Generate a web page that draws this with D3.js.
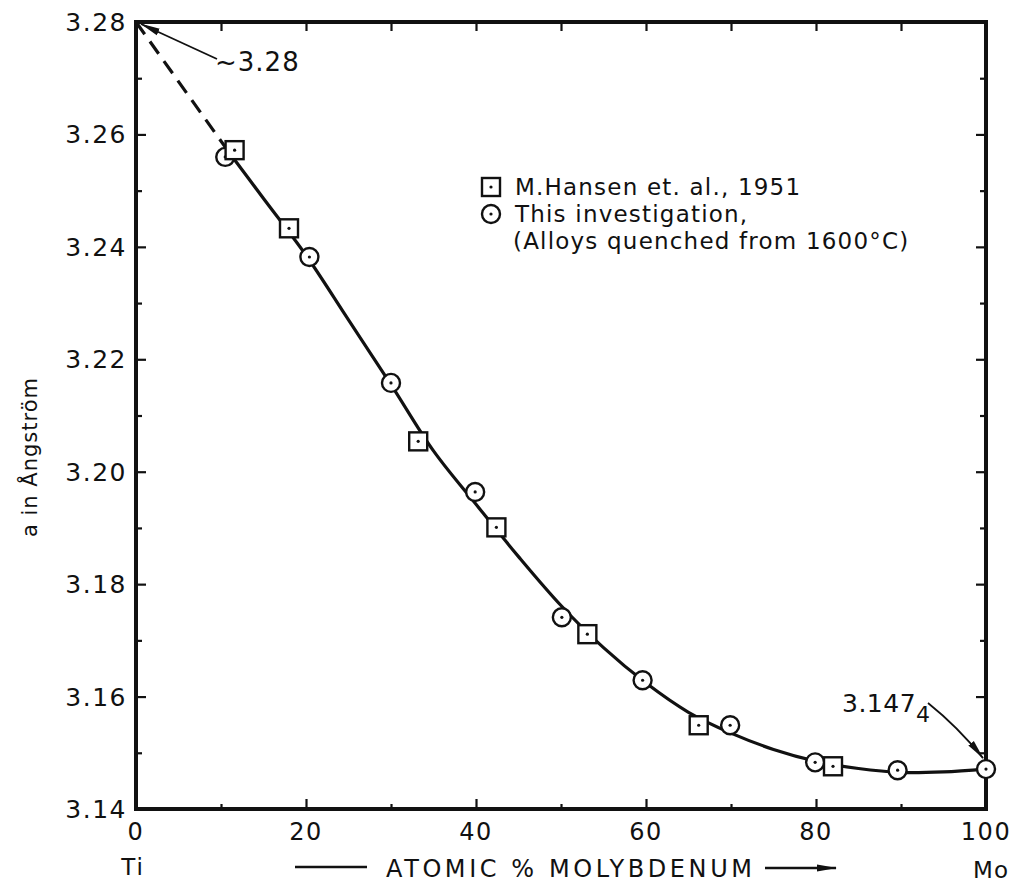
<!DOCTYPE html>
<html>
<head>
<meta charset="utf-8">
<script src="https://cdn.jsdelivr.net/npm/d3@7"></script>
<style>
  html, body { margin: 0; padding: 0; background: #fff; }
  svg { display: block; }
  text { font-family: "DejaVu Sans", sans-serif; fill: #111; }
</style>
</head>
<body>
<svg id="chart" width="1012" height="886"></svg>
<script>
// ---- data ----
const hansenX = [11.6, 18.0, 33.2, 42.4, 53.1, 66.2, 82.0];
const hansenY = [3.2572, 3.2433, 3.2054, 3.1901, 3.1711, 3.1549, 3.1476];
const thisX = [10.5, 20.4, 30.0, 39.9, 50.1, 59.6, 69.9, 79.9, 89.6, 100];
const thisY = [3.2560, 3.2382, 3.2158, 3.1964, 3.1741, 3.1629, 3.1549, 3.1483, 3.1469, 3.1471];
const curveX = [11, 15, 20, 25, 30, 35, 40, 45, 50, 55, 60, 65, 70, 75, 80, 85, 90, 95, 100];
const curveY = [3.2567, 3.2486, 3.2385, 3.2270, 3.2155, 3.2037, 3.1942, 3.1849, 3.1762, 3.1687, 3.1624, 3.1572, 3.1535, 3.1506, 3.1485, 3.1472, 3.1465, 3.1466, 3.1471];
const dashX = [0, 11];
const dashY = [3.28, 3.2567];
const xTickValues = [0, 20, 40, 60, 80, 100];
const xTickLabels = ["0", "20", "40", "60", "80", "100"];
const yTickValues = [3.14, 3.16, 3.18, 3.20, 3.22, 3.24, 3.26, 3.28];
const yTickLabels = ["3.14", "3.16", "3.18", "3.20", "3.22", "3.24", "3.26", "3.28"];
const legendLabels = ["M.Hansen et. al., 1951", "This investigation,", "(Alloys quenched from 1600°C)"];

// ---- layout ----
const svg = d3.select("#chart");
const L = 136, R = 986, T = 22, B = 809;
const x = d3.scaleLinear().domain([0, 100]).range([L, R]);
const y = d3.scaleLinear().domain([3.14, 3.28]).range([B, T]);

svg.append("rect").attr("width", 1012).attr("height", 886).attr("fill", "#fff");

// arrow marker
const defs = svg.append("defs");
defs.append("marker").attr("id", "ah").attr("viewBox", "0 0 20 10")
  .attr("refX", 19).attr("refY", 5).attr("markerWidth", 20).attr("markerHeight", 10)
  .attr("markerUnits", "userSpaceOnUse").attr("orient", "auto")
  .append("path").attr("d", "M0,1.5 L20,5 L0,8.5 Z").attr("fill", "#111");

// minor/major ticks via axes
const gAx = svg.append("g");
const bottomMinor = d3.axisTop(x).tickValues(d3.range(10, 100, 20)).tickSize(5).tickFormat("");
const bottomMajor = d3.axisTop(x).tickValues([20, 40, 60, 80]).tickSize(10).tickFormat("");
const topTicks = d3.axisBottom(x).tickValues(d3.range(10, 100, 10)).tickSize(9).tickFormat("");
const leftMajor = d3.axisRight(y).tickValues([3.16, 3.18, 3.20, 3.22, 3.24, 3.26]).tickSize(10).tickFormat("");
const leftMinor = d3.axisRight(y).tickValues([3.15, 3.17, 3.19, 3.21, 3.23, 3.25, 3.27]).tickSize(6).tickFormat("");
const rightMajor = d3.axisLeft(y).tickValues([3.16, 3.18, 3.20, 3.22, 3.24, 3.26]).tickSize(10).tickFormat("");
const rightMinor = d3.axisLeft(y).tickValues([3.15, 3.17, 3.19, 3.21, 3.23, 3.25, 3.27]).tickSize(6).tickFormat("");
function addAxis(ax, tx, ty) {
  const g = gAx.append("g").attr("transform", `translate(${tx},${ty})`).call(ax);
  g.select(".domain").remove();
  g.selectAll("line").attr("stroke", "#111").attr("stroke-width", 2.2);
}
addAxis(bottomMinor, 0, B);
addAxis(bottomMajor, 0, B);
addAxis(topTicks, 0, T);
addAxis(leftMajor, L, 0);
addAxis(leftMinor, L, 0);
addAxis(rightMajor, R, 0);
addAxis(rightMinor, R, 0);

// frame
svg.append("rect").attr("x", L).attr("y", T).attr("width", R - L).attr("height", B - T)
  .attr("fill", "none").attr("stroke", "#111").attr("stroke-width", 4);

// tick labels
svg.append("g").selectAll("text").data(yTickValues).join("text")
  .attr("x", 127).attr("y", d => y(d)).attr("dy", "0.36em")
  .attr("text-anchor", "end").attr("font-size", 25).attr("letter-spacing", 1.5)
  .text((d, i) => yTickLabels[i]);
svg.append("g").selectAll("text").data(xTickValues).join("text")
  .attr("x", d => x(d)).attr("y", 840)
  .attr("text-anchor", "middle").attr("font-size", 24).attr("letter-spacing", 1.5)
  .text((d, i) => xTickLabels[i]);

// axis titles
svg.append("text").attr("x", 133).attr("y", 875).attr("text-anchor", "middle")
  .attr("font-size", 23).attr("letter-spacing", 2).text("Ti");
svg.append("text").attr("x", 991).attr("y", 878).attr("text-anchor", "middle")
  .attr("font-size", 23).attr("letter-spacing", 1).text("Mo");
svg.append("line").attr("x1", 295).attr("x2", 367).attr("y1", 867).attr("y2", 867)
  .attr("stroke", "#111").attr("stroke-width", 2.5);
svg.append("text").attr("x", 386).attr("y", 877).attr("font-size", 24)
  .attr("textLength", 366).attr("lengthAdjust", "spacing").text("ATOMIC % MOLYBDENUM");
svg.append("line").attr("x1", 765).attr("x2", 836).attr("y1", 868).attr("y2", 868)
  .attr("stroke", "#111").attr("stroke-width", 2.5).attr("marker-end", "url(#ah)");

svg.append("text").attr("transform", "translate(37,457) rotate(-90)")
  .attr("text-anchor", "middle").attr("font-size", 21).attr("letter-spacing", 1)
  .text("a in Ångström");

// dashed extrapolation
const line = d3.line().x(d => x(d[0])).y(d => y(d[1]));
svg.append("path").datum(dashX.map((v, i) => [v, dashY[i]]))
  .attr("d", line).attr("fill", "none").attr("stroke", "#111")
  .attr("stroke-width", 3.2).attr("stroke-dasharray", "15,9");

// fitted curve
svg.append("path").datum(curveX.map((v, i) => [v, curveY[i]]))
  .attr("d", line.curve(d3.curveCatmullRom.alpha(0.5))).attr("fill", "none")
  .attr("stroke", "#111").attr("stroke-width", 3.2);

// markers
const hansen = hansenX.map((v, i) => [v, hansenY[i]]);
const mine = thisX.map((v, i) => [v, thisY[i]]);
function square(g, cx, cy) {
  g.append("rect").attr("x", cx - 9).attr("y", cy - 9).attr("width", 18).attr("height", 18)
    .attr("fill", "#fff").attr("stroke", "#111").attr("stroke-width", 2.4);
  g.append("circle").attr("cx", cx).attr("cy", cy).attr("r", 1.6).attr("fill", "#111");
}
function ring(g, cx, cy) {
  g.append("circle").attr("cx", cx).attr("cy", cy).attr("r", 9)
    .attr("fill", "#fff").attr("stroke", "#111").attr("stroke-width", 2.4);
  g.append("circle").attr("cx", cx).attr("cy", cy).attr("r", 1.6).attr("fill", "#111");
}
const gm = svg.append("g");
mine.forEach(d => ring(gm, x(d[0]), y(d[1])));
hansen.forEach(d => square(gm, x(d[0]), y(d[1])));

// legend
const lg = svg.append("g");
square(lg, 491, 187);
ring(lg, 491, 214);
[[515, 195], [515, 222], [513, 249]].forEach((p, i) => {
  lg.append("text").attr("x", p[0]).attr("y", p[1]).attr("font-size", 23)
    .attr("letter-spacing", 1.2).text(legendLabels[i]);
});

// annotations
svg.append("text").attr("x", 215).attr("y", 71).attr("font-size", 26)
  .attr("letter-spacing", 1).text("~3.28");
svg.append("line").attr("x1", 217).attr("y1", 59).attr("x2", x(0) + 5).attr("y2", y(3.28) + 2)
  .attr("stroke", "#111").attr("stroke-width", 1.8).attr("marker-end", "url(#ah)");

const ann = svg.append("text").attr("x", 842).attr("y", 712).attr("font-size", 25).attr("letter-spacing", 0.5);
ann.append("tspan").text("3.147");
ann.append("tspan").attr("font-size", 22).attr("dy", 10).text("4");
svg.append("path")
  .attr("d", `M928,703 Q958,727 ${x(100) - 3},${y(3.1471) - 11}`)
  .attr("fill", "none").attr("stroke", "#111").attr("stroke-width", 1.8)
  .attr("marker-end", "url(#ah)");
</script>
</body>
</html>
